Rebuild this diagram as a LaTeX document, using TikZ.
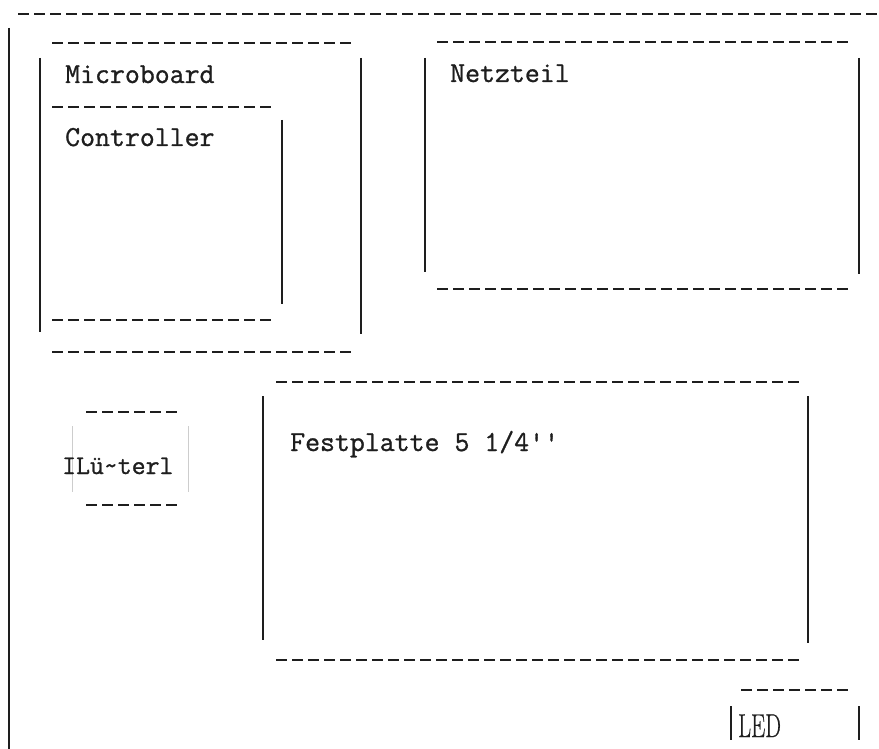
\documentclass[tikz,border=0pt]{standalone}
\usepackage{fontspec}
\usepackage{tikz}
\usetikzlibrary{positioning}
\newfontfamily\typenrad{Latin Modern Mono}[FakeBold=1]
\newfontfamily\druck{Latin Modern Roman}[FakeBold=0.6]
\definecolor{tinte}{RGB}{30,30,30}
\definecolor{hell}{RGB}{205,205,205}

\begin{document}
\begin{tikzpicture}[x=1pt,y=-1pt,
    strich/.style={draw=tinte,line width=2.8pt,dash pattern=on 11pt off 5pt},
    balken/.style={draw=tinte,line width=2.2pt},
    schrift/.style={font=\typenrad\fontsize{29}{30}\selectfont,text=tinte,inner sep=0pt,anchor=base west}]
				\useasboundingbox (0,0) rectangle (879,749);
				% Gehaeuse
				\draw[strich](18,14)--(882,14);
				\draw[balken](9,28)--(9,749);
				% Microboard mit Controller
				\draw[strich](52,43)--(351,43) (52,352)--(351,352);
				\draw[balken](40,58)--(40,332) (361,58)--(361,334);
				\draw[strich](52,107)--(271,107) (52,320)--(271,320);
				\draw[balken](282,120)--(282,304);
				\node[schrift] (microboard) at (65,83){Microboard};
				\node[schrift] (controller) at (65,146){Controller};
				% Netzteil
				\draw[strich](437,42)--(848,42) (437,289)--(848,289);
				\draw[balken](425,58)--(425,272) (859,58)--(859,274);
				\node[schrift] (netzteil) at (450,82){Netzteil};
				% Festplatte
				\draw[strich](276,382)--(799,382) (276,660)--(799,660);
				\draw[balken](263,396)--(263,640) (808,396)--(808,643);
				\node[schrift] (festplatte) at (290,451){Festplatte 5 1/4''};
				% Luefter
				\draw[strich](86,412)--(177,412) (86,505)--(177,505);
				\draw[hell,line width=1pt](72,426)--(72,492) (188,426)--(188,492);
				\node[schrift,font=\typenrad\fontsize{27}{28}\selectfont] (luefterl) at (62,474){ILü\char`\~terl};
				% LED
				\draw[strich](741,690)--(848,690);
				\draw[balken](731,706)--(731,740) (859,706)--(859,740);
				\node[schrift,font=\druck\fontsize{33}{34}\selectfont,xscale=0.68,transform shape] (led) at (738,737){LED};
			\end{tikzpicture}
\end{document}
